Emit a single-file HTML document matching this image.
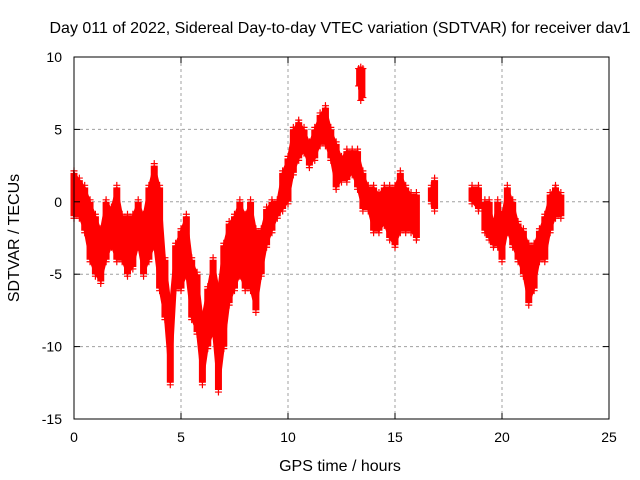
<!DOCTYPE html>
<html><head><meta charset="utf-8"><style>
body{margin:0;background:#fff}
svg{display:block;font-family:"Liberation Sans",sans-serif}
</style></head><body>
<svg id="chart" width="640" height="480">
<text x="340" y="33" text-anchor="middle" font-size="16">Day 011 of 2022, Sidereal Day-to-day VTEC variation (SDTVAR) for receiver dav1</text>
<text x="340" y="471" text-anchor="middle" font-size="16">GPS time / hours</text>
<text transform="translate(19,238) rotate(-90)" text-anchor="middle" font-size="16">SDTVAR / TECUs</text>
<g id="grid"></g><g id="marks"></g>
<rect x="74" y="57" width="535" height="362" fill="none" stroke="#000" stroke-width="1"/>
<g id="ticks"></g>
</svg>
<script>
const xTicks=[0,5,10,15,20,25];
const yTicks=[10,5,0,-5,-10,-15];
const times=[0,0.25,0.5,0.75,1,1.25,1.5,1.75,2,2.25,2.5,2.75,3,3.25,3.5,3.75,4,4.25,4.5,4.75,5,5.25,5.5,5.75,6,6.25,6.5,6.75,7,7.25,7.5,7.75,8,8.25,8.5,8.75,9,9.25,9.5,9.75,10,10.25,10.5,10.75,11,11.25,11.5,11.75,12,12.25,12.5,12.75,13,13.25,13.5,13.75,14,14.25,14.5,14.75,15,15.25,15.5,15.75,16,16.7,16.85,18.6,18.9,19.2,19.4,19.6,19.8,20,20.25,20.5,20.75,21,21.25,21.5,21.75,22,22.25,22.5,22.75];
const lows=[-1,-1,-2,-4,-5,-5.5,-4,-3,-4,-4,-5,-4.5,-3,-5,-4,-3,-6,-8,-12.5,-6,-6,-5,-8,-9,-12.5,-10,-9,-13,-10,-7,-6,-5,-6,-6,-7.5,-5,-3,-2,-1,-0.5,0,2,3,3.5,2.5,3,4,4,3,1,1.5,1.5,2,1,-0.5,-0.5,-2,-2,-1.5,-2.5,-3,-2,-2,-2,-2.5,0,-0.5,0,-0.5,-2,-2.5,-3,-3,-4,-2,-3,-4,-5,-7,-6,-4,-4,-2,-1,-1];
const highs=[2,1.5,1,0,-1,-2,0,-0.5,1,-1,-1,-1,0,-1,1,2.5,1,-4,-7,-3,-2,-1,-4,-5,-8,-6,-4,-6,-3,-1.5,-1,0,-1,0,-2,-2,-0.5,0,0,2,3,5,5.5,5,4,5,6,6.5,5,4,3,3.5,3.5,3.5,2,1,1,0.5,1,1,1,2,1,0.5,0.5,1,1.5,1,1,0,0,-1.5,0,-1,1,0,-1.5,-2,-3,-3,-2,-1,0.5,1,0.5];
const outT=[13.3,13.4,13.5];
const outLo=[8,7,7.2];
const outHi=[9.2,9.3,9.2];
const X=t=>74+t*21.4, Y=v=>57+(10-v)*14.48;
const NS="http://www.w3.org/2000/svg";
function mk(tag,attrs,parent){const e=document.createElementNS(NS,tag);for(const k in attrs)e.setAttribute(k,attrs[k]);parent.appendChild(e);return e;}
const grid=document.getElementById('grid'),ticks=document.getElementById('ticks'),marks=document.getElementById('marks');
xTicks.forEach(t=>{
 if(t>0&&t<25){const g=mk('line',{x1:X(t),x2:X(t),y1:57,y2:419,stroke:'#a0a0a0','stroke-dasharray':'3,3'},grid);
 
 }
 mk('line',{x1:X(t),x2:X(t),y1:419,y2:413,stroke:'#000'},ticks);
 mk('line',{x1:X(t),x2:X(t),y1:57,y2:63,stroke:'#000'},ticks);
 const l=mk('text',{x:X(t),y:442,'text-anchor':'middle','font-size':14},ticks);l.textContent=t;
 
 
});
yTicks.forEach(v=>{
 if(v<10&&v>-15){const g=mk('line',{x1:74,x2:609,y1:Y(v),y2:Y(v),stroke:'#a0a0a0','stroke-dasharray':'3,3'},grid);
 
 }
 mk('line',{x1:74,x2:80,y1:Y(v),y2:Y(v),stroke:'#000'},ticks);
 mk('line',{x1:609,x2:603,y1:Y(v),y2:Y(v),stroke:'#000'},ticks);
 const l=mk('text',{x:62,y:Y(v)+5,'text-anchor':'end','font-size':14},ticks);l.textContent=v;
 
 
});
function plus(x,y){const p=mk('path',{d:`M${x-3.5},${y}h7M${x},${y-3.5}v7`,stroke:'#f00','stroke-width':1.2,fill:'none'},marks);
 
 }
times.forEach((t,i)=>{
 const b=mk('line',{x1:X(t),x2:X(t),y1:Y(highs[i]),y2:Y(lows[i]),stroke:'#f00','stroke-width':7},marks);
 
 
 if(i+1<times.length&&times[i+1]-t<0.3){
  const c=mk('polygon',{points:`${X(t)},${Y(highs[i])} ${X(times[i+1])},${Y(highs[i+1])} ${X(times[i+1])},${Y(lows[i+1])} ${X(t)},${Y(lows[i])}`,fill:'#f00',stroke:'#f00','stroke-width':2},marks);
  
  
 }
 plus(X(t),Y(highs[i])-2);plus(X(t),Y(lows[i])+2);
});
outT.forEach((t,i)=>{
 const b=mk('line',{x1:X(t),x2:X(t),y1:Y(outHi[i]),y2:Y(outLo[i]),stroke:'#f00','stroke-width':5},marks);
 
 
 plus(X(t),Y(outHi[i]));plus(X(t),Y(outLo[i]));
});
</script>
</body></html>
